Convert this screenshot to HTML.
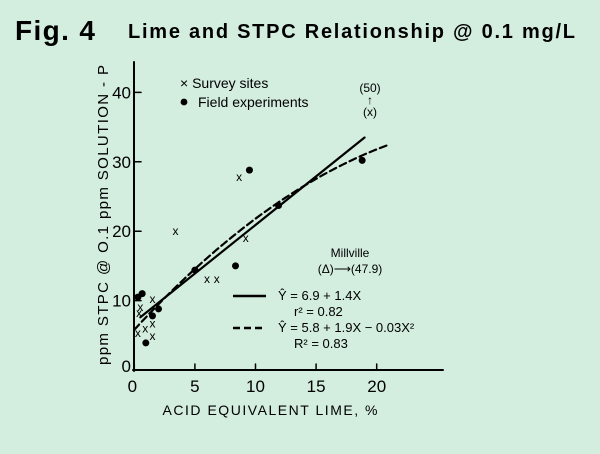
<!DOCTYPE html>
<html><head><meta charset="utf-8"><style>
body{margin:0;width:600px;height:454px;background:#d3eddf;overflow:hidden;font-family:"Liberation Sans",sans-serif}
</style></head><body>
<svg width="600" height="454" style="position:absolute;left:0;top:0">
<rect width="600" height="454" fill="#d3eddf"/>
<text x="15" y="40" font-size="28" font-weight="bold" textLength="80">Fig. 4</text>
<text x="128" y="38" font-size="20" font-weight="bold" textLength="447">Lime and STPC Relationship @ 0.1 mg/L</text>
<g id="plot" stroke-linecap="round"></g>
<text transform="translate(108,215) rotate(-90)" text-anchor="middle" font-size="15" textLength="300">ppm STPC @ O.1 ppm SOLUTION - P</text>
<text x="270" y="415" text-anchor="middle" font-size="14" textLength="215">ACID EQUIVALENT LIME, %</text>
<text x="180" y="88" font-size="14">×  Survey sites</text>
<circle cx="184" cy="102" r="3.4" fill="#000"/>
<text x="198" y="107" font-size="14">Field experiments</text>
<text x="370" y="92" font-size="12" text-anchor="middle">(50)</text>
<text x="370" y="104" font-size="12" text-anchor="middle">↑</text>
<text x="370" y="116" font-size="12" text-anchor="middle">(x)</text>
<text x="350" y="257" font-size="12" text-anchor="middle">Millville</text>
<text x="350" y="273" font-size="12" text-anchor="middle">(Δ)⟶(47.9)</text>
<line x1="233" y1="296" x2="266" y2="296" stroke="#000" stroke-width="2.5"/>
<text x="278" y="300" font-size="13">Ŷ = 6.9 + 1.4X</text>
<text x="294" y="316" font-size="13">r² = 0.82</text>
<line x1="233" y1="328" x2="266" y2="328" stroke="#000" stroke-width="2.5" stroke-dasharray="7,4"/>
<text x="278" y="332" font-size="13">Ŷ = 5.8 + 1.9X − 0.03X²</text>
<text x="294" y="348" font-size="13">R² = 0.83</text>
</svg>
<script>
const xTicks=[0,5,10,15,20];
const yTicks=[0,10,20,30,40];
const surveyX=[3.4,8.65,9.2,6.0,6.8,1.5,0.5,0.4,0.3,0.9,1.5,1.5];
const surveyY=[20,27.8,19,13.1,13.1,10.2,9.1,8.2,5.3,6,6.7,4.9];
const fieldX=[0.3,0.65,0.95,1.5,2.0,5.0,8.35,9.5,11.9,18.8];
const fieldY=[10.5,11,3.9,7.8,8.8,14.4,15,28.8,23.7,30.2];
const linA=6.9, linB=1.4, linRange=[0.5,19];
const quadA=5.8, quadB=1.9, quadC=-0.03, quadRange=[0,20.8];
const X=v=>134.3+v*12.12, Y=v=>370-v*6.94;
const g=document.getElementById('plot'),NS='http://www.w3.org/2000/svg';
function mk(t,a){const e=document.createElementNS(NS,t);for(const k in a)e.setAttribute(k,a[k]);g.appendChild(e);return e;}
let e=mk('line',{x1:134,y1:62,x2:134,y2:371,stroke:'#000','stroke-width':2});


e=mk('line',{x1:133,y1:370,x2:443,y2:370,stroke:'#000','stroke-width':2});


xTicks.forEach(t=>{
 e=mk('line',{x1:X(t),y1:370,x2:X(t),y2:364,stroke:'#000','stroke-width':1.5});
 
 
 e=mk('text',{x:X(t)+(t===0?-2:0),y:392,'text-anchor':'middle','font-size':17});e.textContent=t;
 
 
});
yTicks.forEach(t=>{
 e=mk('line',{x1:134,y1:Y(t),x2:141,y2:Y(t),stroke:'#000','stroke-width':1.5});
 
 
 e=mk('text',{x:131,y:Y(t)+(t===0?2:6),'text-anchor':'end','font-size':17});e.textContent=t;
 
 
});
e=mk('line',{x1:X(linRange[0]),y1:Y(linA+linB*linRange[0]),x2:X(linRange[1]),y2:Y(linA+linB*linRange[1]),stroke:'#000','stroke-width':2.2});


let d='';for(let i=0;i<=40;i++){const v=quadRange[0]+(quadRange[1]-quadRange[0])*i/40;d+=(i?'L':'M')+X(v).toFixed(1)+','+Y(quadA+quadB*v+quadC*v*v).toFixed(1);}
e=mk('path',{d:d,fill:'none',stroke:'#000','stroke-width':2.2,'stroke-dasharray':'7,4'});


surveyX.forEach((v,i)=>{
 e=mk('text',{x:X(v),y:Y(surveyY[i])+4,'text-anchor':'middle','font-size':12});e.textContent='x';
 
 
});
fieldX.forEach((v,i)=>{
 e=mk('circle',{cx:X(v),cy:Y(fieldY[i]),r:3.5,fill:'#000'});
 
 
});
</script>
</body></html>
